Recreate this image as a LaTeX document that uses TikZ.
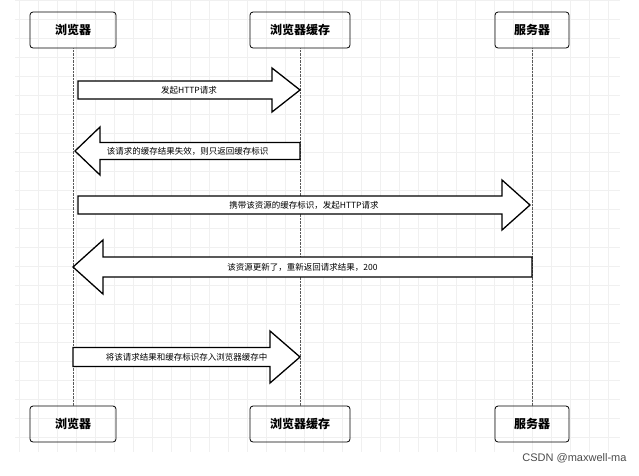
\documentclass[tikz,border=0pt]{standalone}
\usepackage{fontspec}
\newfontfamily\cjk{Noto Sans CJK SC}
\usetikzlibrary{positioning}

% block arrow: from x1 to x2 at height y, shaft half, head half, head length
\newcommand{\barrow}[7]{%
  \pgfmathsetmacro{\dir}{#2>#1 ? 1 : -1}
  \draw[blockline] (#1,#3-#4) -- ({#2-\dir*#6},#3-#4) -- ({#2-\dir*#6},#3-#5)
    -- (#2,#3) -- ({#2-\dir*#6},#3+#5) -- ({#2-\dir*#6},#3+#4) -- (#1,#3+#4) -- cycle;
  \node[msg] at ({(#1+#2)/2},#3) {#7};
}

\begin{document}
\begin{tikzpicture}[x=1pt, y=-1pt,
  actor/.style={draw, line width=0.8pt, rounded corners=3pt, minimum width=86pt, minimum height=36pt,
                font=\cjk\bfseries\fontsize{12}{12}\selectfont},
  life/.style={densely dotted, gray!70!black},
  blockline/.style={draw, fill=white, line width=1.3pt},
  msg/.style={font=\cjk\fontsize{8.5}{8.5}\selectfont},
]
  \useasboundingbox (0,0) rectangle (639,475);
  \draw[gray!12, step=19pt] (15,0) grid (620,452);

  % actors top
  \node[actor] (b1) at (73,30) {浏览器};
  \node[actor, minimum width=100pt] (c1) at (300,30) {浏览器缓存};
  \node[actor, minimum width=74pt] (s1) at (532,30) {服务器};
  % actors bottom
  \node[actor] (b2) at (73,424) {浏览器};
  \node[actor, minimum width=100pt] (c2) at (300,424) {浏览器缓存};
  \node[actor, minimum width=74pt] (s2) at (532,424) {服务器};

  \draw[life] (b1) -- (b2);
  \draw[life] (c1) -- (c2);
  \draw[life] (s1) -- (s2);

  % messages
  \barrow{78}{300}{90}{9}{22}{28}{发起HTTP请求}
  \barrow{300}{75}{151}{8.5}{24}{25}{该请求的缓存结果失效，则只返回缓存标识}
  \barrow{78}{530}{205}{9}{25}{28}{携带该资源的缓存标识，发起HTTP请求}
  \barrow{532}{73}{267}{10}{27}{30}{该资源更新了，重新返回请求结果，200}
  \barrow{73}{300}{357}{9.5}{26}{30}{将该请求结果和缓存标识存入浏览器缓存中}

  \node[font=\fontspec{Liberation Sans}\fontsize{11}{11}\selectfont, gray!60!black,
        anchor=east] (mark) at (630,458) {CSDN @maxwell-ma};
\end{tikzpicture}
\end{document}
